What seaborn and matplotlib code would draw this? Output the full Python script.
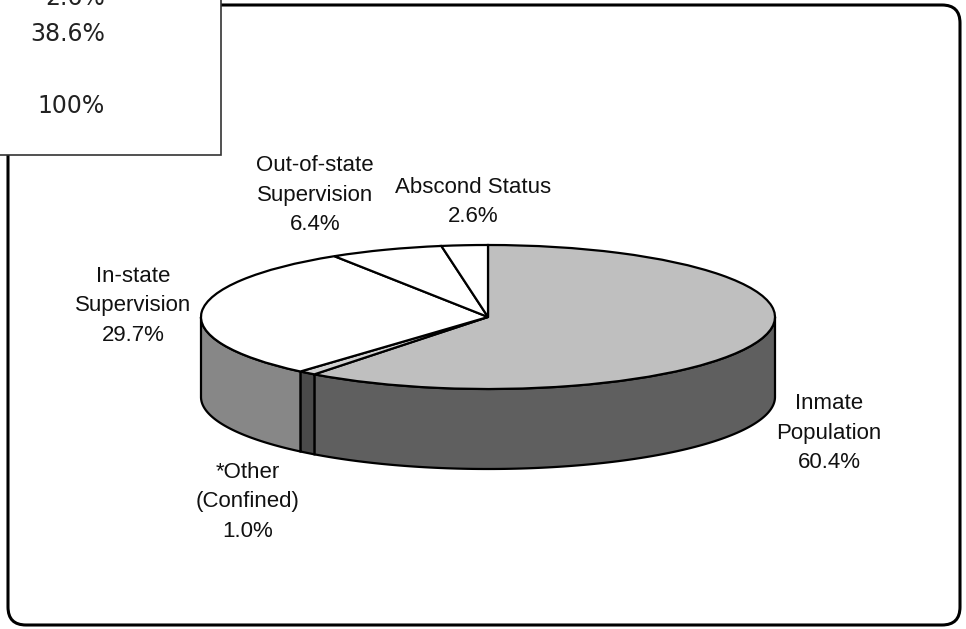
import numpy as np
import matplotlib
matplotlib.use("Agg")
import matplotlib.pyplot as plt
from matplotlib.patches import FancyBboxPatch, Rectangle
import seaborn as sns

sns.set_theme(style="white")
plt.rcParams['font.family'] = ['Liberation Sans', 'DejaVu Sans']

# data
labels = ["Inmate\nPopulation", "*Other\n(Confined)", "In-state\nSupervision",
          "Out-of-state\nSupervision", "Abscond Status"]
shares = [60.4, 1.0, 29.7, 6.4, 2.6]
box_values = ["2.6%", "38.6%", "", "100%"]

top_colors = ["#bfbfbf", "#d2d2d2", "#ffffff", "#ffffff", "#ffffff"]
side_colors = ["#5f5f5f", "#4a4a4a", "#878787", "#999999", "#999999"]

# label centres (pixels)
label_pos = [(829, 433), (248, 502), (133, 306), (315, 195), (473, 202)]

fig = plt.figure(figsize=(9.66, 6.29), dpi=100)
fig.patch.set_facecolor("white")

# pie axes: squashed so the circle reads as a tilted disc
ax = fig.add_axes([0, 0, 1, 1])
wedges, _ = ax.pie(shares, colors=top_colors, startangle=90, counterclock=False,
                   wedgeprops=dict(edgecolor="black", linewidth=1.6))
ax.set_aspect("auto")
cx, cy, rx, ry = 488, 317, 287, 72
ax.set_xlim(-cx / rx, (966 - cx) / rx)
ax.set_ylim(-(629 - cy) / ry, cy / ry)
ax.axis("off")

depth = 80 / ry
for w, c in zip(wedges, side_colors):
    t1, t2 = w.theta1, w.theta2
    for k in (-1, 0, 1):
        a = max(t1, 180 + 360 * k)
        b = min(t2, 360 + 360 * k)
        if b <= a:
            continue
        t = np.radians(np.linspace(a, b, 120))
        xs = np.cos(t)
        ys = np.sin(t)
        px = np.concatenate([xs, xs[::-1]])
        py = np.concatenate([ys, ys[::-1] - depth])
        ax.fill(px, py, facecolor=c, edgecolor="black", linewidth=1.6, zorder=0.5)

# overlay axes in pixel units for frame, box and labels
ov = fig.add_axes([0, 0, 1, 1])
ov.set_xlim(0, 966)
ov.set_ylim(629, 0)
ov.axis("off")
ov.patch.set_alpha(0)

ov.add_patch(FancyBboxPatch((8, 5), 952, 620, boxstyle="round,pad=0,rounding_size=18",
                            facecolor="none", edgecolor="black", linewidth=2.2))
ov.add_patch(Rectangle((-5, -5), 226, 160, facecolor="white", edgecolor="#333333",
                       linewidth=1.2))
for i, v in enumerate(box_values):
    ov.text(105, -2 + i * 36, v, ha="right", va="center", fontsize=17,
            family="DejaVu Sans", color="#222222")

for lab, s, (x, y) in zip(labels, shares, label_pos):
    ov.text(x, y, f"{lab}\n{s:.1f}%", ha="center", va="center", fontsize=16,
            linespacing=1.55, color="#111111")

fig.savefig("out.png", dpi=100)
